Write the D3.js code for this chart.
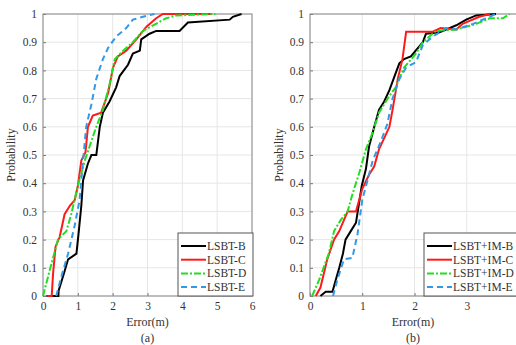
<!DOCTYPE html>
<html>
<head>
<meta charset="utf-8">
<script src="https://cdnjs.cloudflare.com/ajax/libs/d3/7.8.5/d3.min.js"></script>
<style>
  body { margin: 0; background: #fff; }
  svg text { font-family: "Liberation Serif", "DejaVu Serif", "Times New Roman", serif; fill: #333; }
</style>
</head>
<body>
<script>
// Tick labels
var yTicks = [0, 0.1, 0.2, 0.3, 0.4, 0.5, 0.6, 0.7, 0.8, 0.9, 1];
var xTicksA = [0, 1, 2, 3, 4, 5, 6];
var xTicksB = [0, 1, 2, 3, 4];

// Panel (a) series: [error, probability]
var namesA = ["LSBT-B", "LSBT-C", "LSBT-D", "LSBT-E"];
var lsbtB = [[0.1,0],[0.44,0],[0.45,0.02],[0.6,0.08],[0.72,0.13],[0.96,0.15],[1.02,0.22],[1.1,0.32],[1.15,0.41],[1.29,0.47],[1.39,0.5],[1.53,0.5],[1.63,0.6],[1.72,0.65],[1.91,0.69],[2.1,0.74],[2.2,0.78],[2.44,0.82],[2.58,0.86],[2.78,0.87],[2.82,0.91],[3.06,0.93],[3.25,0.94],[3.92,0.94],[4.16,0.97],[5.36,0.98],[5.45,0.99],[5.7,1]];
var lsbtC = [[0.12,0],[0.25,0],[0.29,0.08],[0.36,0.175],[0.48,0.21],[0.62,0.29],[0.77,0.32],[0.91,0.34],[1.0,0.39],[1.1,0.48],[1.22,0.51],[1.29,0.6],[1.43,0.64],[1.67,0.65],[1.87,0.72],[2.01,0.81],[2.15,0.85],[2.39,0.87],[2.68,0.91],[2.97,0.955],[3.25,0.985],[3.44,1],[4.85,1]];
var lsbtD = [[0,0],[0.19,0.09],[0.43,0.2],[0.67,0.23],[0.81,0.29],[1.0,0.39],[1.2,0.48],[1.39,0.55],[1.53,0.6],[1.72,0.66],[1.91,0.75],[2.06,0.84],[2.3,0.87],[2.58,0.9],[2.87,0.94],[3.16,0.96],[3.54,0.985],[3.83,0.995],[4.95,1]];
var lsbtE = [[0.38,0],[0.53,0.07],[0.72,0.15],[0.91,0.25],[1.05,0.34],[1.15,0.48],[1.24,0.6],[1.39,0.68],[1.53,0.77],[1.72,0.84],[1.87,0.88],[2.1,0.92],[2.39,0.95],[2.58,0.98],[2.87,0.99],[3.2,1]];

// Panel (b) series
var namesB = ["LSBT+IM-B", "LSBT+IM-C", "LSBT+IM-D", "LSBT+IM-E"];
var imB = [[0.2,0],[0.3,0.015],[0.43,0.015],[0.49,0.055],[0.56,0.1],[0.63,0.15],[0.68,0.2],[0.78,0.23],[0.88,0.26],[0.94,0.33],[0.99,0.39],[1.07,0.45],[1.13,0.53],[1.23,0.6],[1.32,0.66],[1.42,0.69],[1.52,0.73],[1.64,0.79],[1.71,0.825],[1.8,0.84],[1.93,0.85],[2.16,0.9],[2.22,0.93],[2.48,0.935],[2.8,0.96],[2.99,0.98],[3.18,0.995],[3.56,1]];
var imC = [[0.11,0],[0.2,0.03],[0.33,0.13],[0.46,0.2],[0.56,0.23],[0.72,0.3],[0.88,0.3],[1.0,0.38],[1.13,0.43],[1.23,0.46],[1.32,0.52],[1.42,0.56],[1.52,0.6],[1.58,0.66],[1.68,0.77],[1.77,0.84],[1.84,0.937],[2.35,0.937],[2.5,0.95],[2.8,0.945],[2.92,0.965],[3.24,0.99],[3.44,1]];
var imD = [[0.04,0],[0.17,0.055],[0.36,0.15],[0.46,0.23],[0.59,0.27],[0.72,0.3],[0.81,0.36],[0.94,0.435],[1.07,0.52],[1.2,0.58],[1.32,0.65],[1.52,0.71],[1.64,0.74],[1.8,0.81],[2.03,0.86],[2.16,0.9],[2.41,0.94],[2.8,0.945],[3.18,0.965],[3.44,0.985],[3.69,0.985],[3.82,1]];
var imE = [[0.44,0],[0.52,0.055],[0.65,0.13],[0.81,0.135],[0.91,0.22],[1.0,0.34],[1.1,0.41],[1.2,0.48],[1.36,0.55],[1.48,0.61],[1.58,0.7],[1.71,0.77],[1.84,0.81],[2.03,0.83],[2.16,0.89],[2.35,0.92],[2.61,0.95],[2.8,0.945],[3.12,0.965],[3.37,0.985],[3.56,1]];

var styles = [
  { color: "#000000", dash: null },
  { color: "#ff1a1a", dash: null },
  { color: "#22dd22", dash: "7,2,2,2" },
  { color: "#3399e6", dash: "6,4" }
];

var serif = "'Liberation Serif', 'DejaVu Serif', serif";

var svg = d3.select("body").append("svg")
  .attr("width", 516)
  .attr("height", 345);

function drawPanel(opts) {
  var x = d3.scaleLinear().domain(opts.xDomain).range([opts.left, opts.right]);
  var y = d3.scaleLinear().domain([0, 1]).range([296, 14]);
  var g = svg.append("g");

  // grid
  g.selectAll(".gx").data(opts.xTicks).enter().append("line")
    .attr("x1", d => x(d)).attr("x2", d => x(d))
    .attr("y1", y(0)).attr("y2", y(1))
    .attr("stroke", "#e6e6e6").attr("stroke-width", 1);
  g.selectAll(".gy").data(yTicks).enter().append("line")
    .attr("x1", x.range()[0]).attr("x2", x.range()[1])
    .attr("y1", d => y(d)).attr("y2", d => y(d))
    .attr("stroke", "#e6e6e6").attr("stroke-width", 1);

  // axes (ticks inside like matlab)
  var xAxis = d3.axisBottom(x).tickValues(opts.xTicks).tickSize(-3).tickPadding(6).tickFormat(d3.format("d"));
  var yAxis = d3.axisLeft(y).tickValues(yTicks).tickSize(-3).tickPadding(6).tickFormat(d => d === 0 || d === 1 ? d : d3.format(".1f")(d));
  var gx = g.append("g").attr("transform", `translate(0,${y(0)})`).call(xAxis);
  var gy = g.append("g").attr("transform", `translate(${x.range()[0]},0)`).call(yAxis);
  [gx, gy].forEach(function(a) {
    a.attr("font-family", serif).attr("font-size", 11.5);
    a.select(".domain").remove();
    a.selectAll("line").attr("stroke", "#777");
    a.selectAll("text").attr("fill", "#333");
  });

  // box
  g.append("rect")
    .attr("x", x.range()[0]).attr("y", y(1))
    .attr("width", x.range()[1] - x.range()[0]).attr("height", y(0) - y(1))
    .attr("fill", "none").attr("stroke", "#888").attr("stroke-width", 1);

  // curves
  var line = d3.line().x(d => x(d[0])).y(d => y(d[1]));
  opts.series.forEach(function(s, i) {
    g.append("path")
      .datum(s)
      .attr("d", line)
      .attr("fill", "none")
      .attr("stroke", styles[i].color)
      .attr("stroke-width", 2)
      .attr("stroke-dasharray", styles[i].dash);
  });

  // labels
  var cx = (x.range()[0] + Math.min(x.range()[1], 516)) / 2;
  g.append("text")
    .attr("transform", `translate(${opts.ylabelX},155) rotate(-90)`)
    .attr("text-anchor", "middle")
    .attr("font-family", serif).attr("font-size", 12)
    .text("Probability");
  g.append("text")
    .attr("x", cx).attr("y", 326)
    .attr("text-anchor", "middle")
    .attr("font-family", serif).attr("font-size", 12)
    .text("Error(m)");
  g.append("text")
    .attr("x", cx).attr("y", 342)
    .attr("text-anchor", "middle")
    .attr("font-family", serif).attr("font-size", 12)
    .text(opts.caption);

  // legend
  var lg = g.append("g");
  lg.append("rect")
    .attr("x", opts.legendX).attr("y", 233)
    .attr("width", opts.legendW).attr("height", 63)
    .attr("fill", "#fff").attr("stroke", "#555").attr("stroke-width", 1);
  opts.names.forEach(function(n, i) {
    var ly = 246 + i * 13.7;
    lg.append("line")
      .attr("x1", opts.legendX + 3).attr("x2", opts.legendX + 28)
      .attr("y1", ly).attr("y2", ly)
      .attr("stroke", styles[i].color).attr("stroke-width", 2)
      .attr("stroke-dasharray", styles[i].dash);
    lg.append("text")
      .attr("x", opts.legendX + 29).attr("y", ly + 4)
      .attr("font-family", serif).attr("font-size", 11.5)
      .attr("fill", "#222")
      .text(n);
  });
}

drawPanel({
  xDomain: [0, 6], left: 43, right: 252, xTicks: xTicksA,
  series: [lsbtB, lsbtC, lsbtD, lsbtE], names: namesA,
  ylabelX: 15, caption: "(a)",
  legendX: 178, legendW: 75
});
drawPanel({
  xDomain: [0, 4], left: 310, right: 519, xTicks: xTicksB,
  series: [imB, imC, imD, imE], names: namesB,
  ylabelX: 283, caption: "(b)",
  legendX: 424, legendW: 100
});
</script>
</body>
</html>
